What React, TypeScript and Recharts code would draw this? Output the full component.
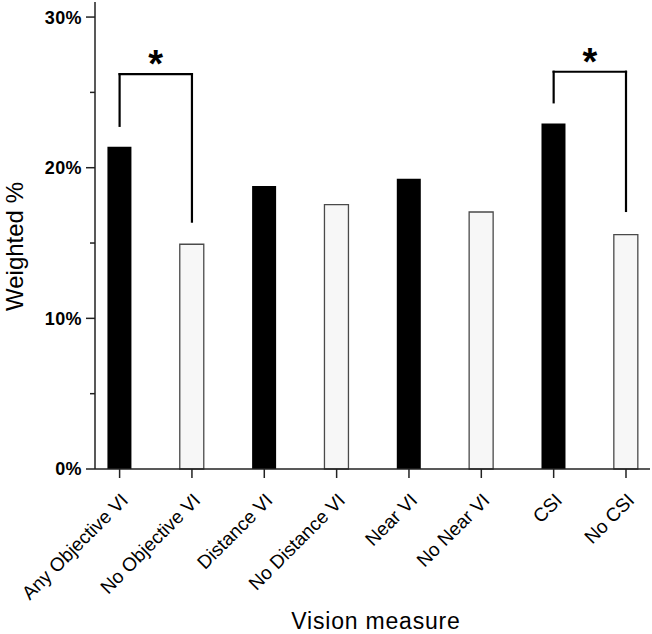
import React from 'react';
import { BarChart, Bar, XAxis, YAxis, Cell, ReferenceLine, Label } from 'recharts';

const categories = ['Any Objective VI', 'No Objective VI', 'Distance VI', 'No Distance VI', 'Near VI', 'No Near VI', 'CSI', 'No CSI'];
const values = [21.39, 14.92, 18.79, 17.55, 19.27, 17.06, 22.94, 15.56];
const yTicks = [0, 5, 10, 15, 20, 25, 30];
const yMajorTicks = [0, 10, 20, 30];
const bracketFrom = ['Any Objective VI', 'CSI'];
const bracketTo = ['No Objective VI', 'No CSI'];
const bracketTop = [26.21, 26.37];
const bracketLeftEnd = [22.78, 24.34];
const bracketRightEnd = [16.42, 17.13];
const bracketMark = ['*', '*'];

const data = categories.map((c, i) => ({ name: c, value: values[i] }));

const FONT = '"Liberation Sans", Arial, Helvetica, sans-serif';

const YTick = (props: any) => {
  const { x, y, payload } = props;
  const major = yMajorTicks.includes(payload.value);
  return (
    <g>
      <line x1={x - (major ? 9 : 5)} y1={y} x2={x} y2={y} stroke="#222" strokeWidth={1.5} />
      {major && (
        <text x={x - 13} y={y} dy="0.36em" textAnchor="end" fontFamily={FONT} fontWeight="bold" fontSize={18} letterSpacing={0.4} fill="#000">
          {`${payload.value}%`}
        </text>
      )}
    </g>
  );
};

const XTick = (props: any) => {
  const { x, y, payload } = props;
  return (
    <text
      x={x}
      y={y}
      dy="0.71em"
      textAnchor="end"
      transform={`rotate(-45 ${x} ${y})`}
      fontFamily={FONT}
      fontSize={19}
      fill="#000"
    >
      {payload.value}
    </text>
  );
};

const renderYLabel = (props: any) => {
  const vb = props.viewBox;
  const cx = vb.x + 14;
  const cy = vb.y + vb.height / 2 + 11;
  return (
    <text x={cx} y={cy} dy="0.355em" textAnchor="middle" transform={`rotate(-90 ${cx} ${cy})`} fontFamily={FONT} fontSize={24} fill="#000">
      Weighted %
    </text>
  );
};

const renderXLabel = (props: any) => {
  const vb = props.viewBox;
  const cx = vb.x + vb.width / 2 + 3.5;
  return (
    <text x={cx} y={629} textAnchor="middle" fontFamily={FONT} fontSize={23} letterSpacing={0.8} fill="#000">
      Vision measure
    </text>
  );
};

export default function App() {
  const lineProps = { stroke: '#000', strokeWidth: 2.2, strokeLinecap: 'square' as const, ifOverflow: 'visible' as const };
  return (
    <div style={{ position: 'absolute', left: 0, top: 0, width: 652, height: 634, background: '#fff' }}>
      <BarChart width={652} height={634} data={data} margin={{ top: 2, right: 2, bottom: 0, left: 0 }} barSize={24}>
        <XAxis
          dataKey="name"
          interval={0}
          height={165}
          padding={{ left: -11.57, right: -12.17 }}
          axisLine={{ stroke: '#222', strokeWidth: 1.5 }}
          tickLine={{ stroke: '#222', strokeWidth: 1.5 }}
          tickSize={9}
          tickMargin={14}
          tick={<XTick />}
        >
          <Label content={renderXLabel} />
        </XAxis>
        <YAxis
          width={95}
          domain={[0, 31]}
          ticks={yTicks}
          interval={0}
          axisLine={{ stroke: '#222', strokeWidth: 1.5 }}
          tickLine={false}
          tickSize={0}
          tickMargin={0}
          tick={<YTick />}
        >
          <Label content={renderYLabel} />
        </YAxis>
        <Bar dataKey="value" isAnimationActive={false}>
          {data.map((d, i) => (
            <Cell
              key={d.name}
              fill={i % 2 === 0 ? '#000000' : '#f7f7f7'}
              stroke={i % 2 === 0 ? '#000000' : '#4a4a4a'}
              strokeWidth={i % 2 === 0 ? 0 : 1.3}
            />
          ))}
        </Bar>
        {bracketFrom.map((from, i) => (
          <ReferenceLine
            key={`top-${i}`}
            {...lineProps}
            segment={[{ x: from, y: bracketTop[i] }, { x: bracketTo[i], y: bracketTop[i] }]}
            label={{ value: bracketMark[i], position: 'top', offset: -3, fontSize: 38, fontWeight: 'bold', fill: '#000', fontFamily: FONT }}
          />
        ))}
        {bracketFrom.map((from, i) => (
          <ReferenceLine
            key={`left-${i}`}
            {...lineProps}
            segment={[{ x: from, y: bracketTop[i] }, { x: from, y: bracketLeftEnd[i] }]}
          />
        ))}
        {bracketFrom.map((from, i) => (
          <ReferenceLine
            key={`right-${i}`}
            {...lineProps}
            segment={[{ x: bracketTo[i], y: bracketTop[i] }, { x: bracketTo[i], y: bracketRightEnd[i] }]}
          />
        ))}
      </BarChart>
    </div>
  );
}
